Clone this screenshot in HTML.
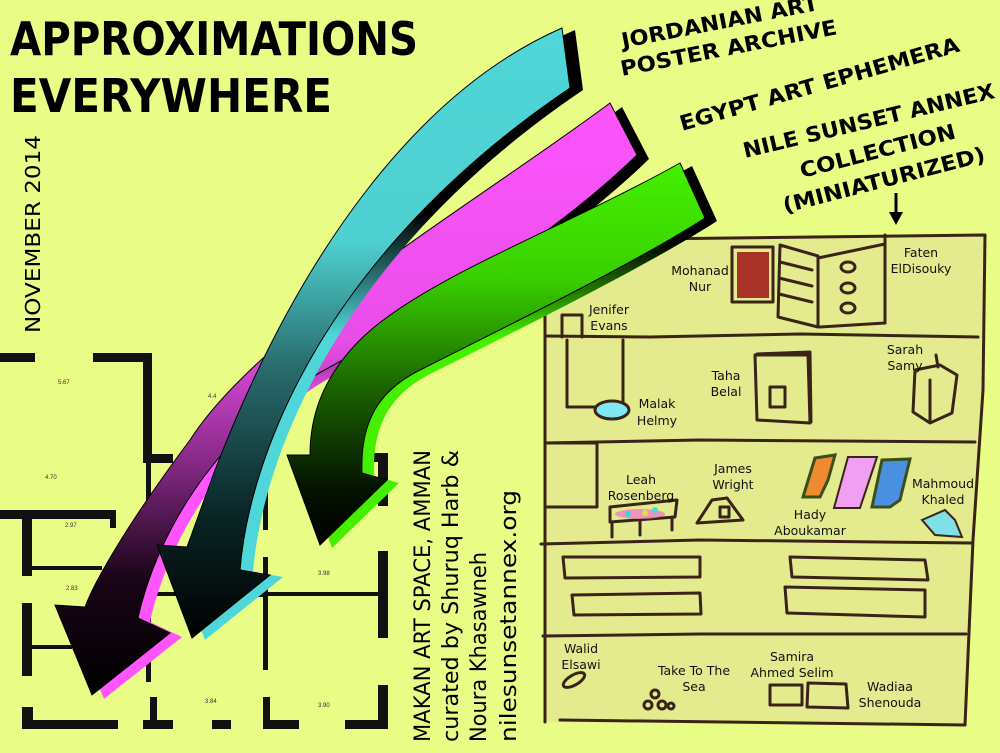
<!DOCTYPE html>
<html><head><meta charset="utf-8"><style>
html,body{margin:0;padding:0;background:#e8fc86;}
svg{display:block;}
</style></head><body>
<svg width="1000" height="753" viewBox="0 0 1000 753" xmlns="http://www.w3.org/2000/svg">
<defs>
<linearGradient id="gc" x1="0" y1="0" x2="0" y2="1" gradientUnits="objectBoundingBox">
<stop offset="0" stop-color="#4fd6d8"/><stop offset="0.35" stop-color="#4fd0d0"/><stop offset="0.55" stop-color="#2a6e70"/><stop offset="0.8" stop-color="#0a2526"/><stop offset="1" stop-color="#000"/></linearGradient>
<linearGradient id="gm" x1="0" y1="0" x2="0" y2="1">
<stop offset="0" stop-color="#ff55ff"/><stop offset="0.4" stop-color="#e84ee8"/><stop offset="0.6" stop-color="#8a2a8a"/><stop offset="0.8" stop-color="#1a0518"/><stop offset="1" stop-color="#000"/></linearGradient>
<linearGradient id="gg" x1="0" y1="0" x2="0" y2="1">
<stop offset="0" stop-color="#44f000"/><stop offset="0.3" stop-color="#3ad000"/><stop offset="0.6" stop-color="#1a6000"/><stop offset="0.85" stop-color="#041400"/><stop offset="1" stop-color="#000"/></linearGradient>
<linearGradient id="sc" x1="0" y1="0" x2="0" y2="1"><stop offset="0.3" stop-color="#000"/><stop offset="0.5" stop-color="#4fd6d8"/></linearGradient>
<linearGradient id="sm" x1="0" y1="0" x2="0" y2="1"><stop offset="0.3" stop-color="#000"/><stop offset="0.5" stop-color="#ff55ff"/></linearGradient>
<linearGradient id="sg" x1="0" y1="0" x2="0" y2="1"><stop offset="0.2" stop-color="#000"/><stop offset="0.45" stop-color="#44f000"/></linearGradient>
</defs>

<!-- floor plan -->
<g fill="#111">
<rect x="0" y="353" width="35" height="9"/>
<rect x="93" y="353" width="59" height="9"/>
<rect x="143" y="353" width="9" height="110"/>
<rect x="143" y="454" width="30" height="9"/>
<rect x="146" y="462" width="5" height="220"/>
<rect x="0" y="510" width="116" height="9"/>
<rect x="110" y="510" width="6" height="18"/>
<rect x="22" y="510" width="10" height="66"/>
<rect x="32" y="566" width="70" height="4"/>
<rect x="22" y="603" width="10" height="73"/>
<rect x="32" y="645" width="40" height="4"/>
<rect x="22" y="707" width="11" height="22"/>
<rect x="22" y="720" width="96" height="9"/>
<rect x="143" y="720" width="30" height="9"/>
<rect x="150" y="697" width="7" height="32"/>
<rect x="212" y="720" width="19" height="9"/>
<rect x="263" y="720" width="36" height="9"/>
<rect x="263" y="697" width="7" height="32"/>
<rect x="345" y="720" width="43" height="9"/>
<rect x="378" y="685" width="10" height="44"/>
<rect x="378" y="551" width="10" height="87"/>
<rect x="378" y="453" width="10" height="53"/>
<rect x="345" y="453" width="43" height="9"/>
<rect x="263" y="455" width="5" height="75"/>
<rect x="263" y="557" width="5" height="113"/>
<rect x="155" y="592" width="225" height="4"/>
<rect x="258" y="587" width="10" height="10"/>
</g>
<g font-family="Liberation Sans, sans-serif" font-size="6" fill="#333">
<text x="58" y="384">5.67</text><text x="208" y="398">4.4</text><text x="65" y="527">2.97</text>
<text x="66" y="590">2.83</text><text x="318" y="575">3.98</text><text x="205" y="703">3.84</text><text x="318" y="707">3.90</text>
<text x="45" y="479">4.70</text>
</g>

<!-- sketch paper -->
<polygon points="545,300 600,240 985,233 983,390 973,540 965,725 545,722" fill="#e3eb8e"/>
<g fill="none" stroke="#3a2418" stroke-width="3" stroke-linecap="round" stroke-linejoin="round">
<path d="M560,240 L985,235 L983,390 L973,540 L965,725 L560,720"/>
<path d="M545,300 L545,722"/>
<path d="M545,336 L650,337 L800,334 L978,337"/>
<path d="M545,443 L700,440 L975,442"/>
<path d="M541,544 L700,540 L971,543"/>
<path d="M543,636 L700,634 L966,634"/>
<rect x="732" y="247" width="41" height="55"/>
<path d="M780,245 L818,256 L818,327 L778,317 Z M780,262 L812,270 M779,278 L812,286 M779,294 L812,302"/>
<path d="M818,258 L885,244 L885,323 L820,327"/>
<ellipse cx="848" cy="267" rx="7" ry="5"/><ellipse cx="848" cy="288" rx="7" ry="5"/><ellipse cx="848" cy="308" rx="7" ry="5"/>
<path d="M885,235 L885,323"/>
<path d="M562,337 L562,315 L582,315 L582,337"/>
<path d="M567,340 L567,407 L598,407 M623,340 L623,405"/>
<path d="M755,355 L808,355 L810,423 L757,420 Z M757,354 L810,352 L811,422"/>
<rect x="770" y="387" width="15" height="20"/>
<path d="M915,370 L940,365 L957,375 L952,413 L930,423 L913,412 Z M930,380 L930,423 M936,355 L938,367"/>
<path d="M547,443 L597,443 L597,507 L547,507"/>
<path d="M610,507 L677,500 L675,517 L610,522 Z M612,522 L612,537 M640,520 L640,535 M672,517 L672,530"/>
<path d="M697,523 L712,500 L727,498 L743,520 Z"/>
<rect x="720" y="507" width="9" height="10"/>
<path d="M563,557 L700,557 L700,577 L565,578 Z"/>
<path d="M572,595 L700,593 L701,614 L574,615 Z"/>
<path d="M790,557 L925,560 L928,580 L792,577 Z"/>
<path d="M785,587 L925,590 L925,617 L787,613 Z"/>
<rect x="770" y="685" width="32" height="20"/>
<path d="M808,683 L846,684 L848,708 L807,707 Z"/>
<ellipse cx="574" cy="680" rx="12" ry="5" transform="rotate(-30 574 680)"/>
<circle cx="655" cy="694" r="4"/><circle cx="648" cy="705" r="4"/><circle cx="662" cy="705" r="4"/><circle cx="671" cy="706" r="3"/>
</g>
<ellipse cx="612" cy="410" rx="17" ry="9" fill="#80e8f2" stroke="#3a2418" stroke-width="3"/>
<path d="M803,497 L815,458 L835,455 L828,480 L820,497 Z" fill="#f08a30" stroke="#3a5018" stroke-width="3"/>
<path d="M834,508 L848,457 L877,457 L860,508 Z" fill="#f0a0f0" stroke="#3a2418" stroke-width="2"/>
<path d="M872,507 L882,460 L910,459 L900,500 L890,507 Z" fill="#4a90e0" stroke="#3a5018" stroke-width="3"/>
<path d="M922,520 L945,510 L955,520 L962,537 L935,535 Z" fill="#80e0e8" stroke="#3a2418" stroke-width="2"/>
<ellipse cx="640" cy="514" rx="25" ry="5" fill="#f080c0" opacity="0.8"/>
<circle cx="628" cy="514" r="3" fill="#40d0e0"/><circle cx="645" cy="513" r="3" fill="#e0e040"/><circle cx="655" cy="510" r="3" fill="#40e0e0"/>
<rect x="737" y="252" width="32" height="46" fill="#a83228"/>

<g font-family="DejaVu Sans, Liberation Sans, sans-serif" font-size="12.5" fill="#111" text-anchor="middle">
<text x="700" y="275">Mohanad</text><text x="700" y="291">Nur</text>
<text x="921" y="257">Faten</text><text x="921" y="273">ElDisouky</text>
<text x="609" y="314">Jenifer</text><text x="609" y="330">Evans</text>
<text x="726" y="380">Taha</text><text x="726" y="396">Belal</text>
<text x="905" y="354">Sarah</text><text x="905" y="370">Samy</text>
<text x="657" y="408">Malak</text><text x="657" y="425">Helmy</text>
<text x="641" y="484">Leah</text><text x="641" y="500">Rosenberg</text>
<text x="733" y="473">James</text><text x="733" y="489">Wright</text>
<text x="943" y="488">Mahmoud</text><text x="943" y="504">Khaled</text>
<text x="810" y="519">Hady</text><text x="810" y="535">Aboukamar</text>
<text x="581" y="653">Walid</text><text x="581" y="669">Elsawi</text>
<text x="694" y="675">Take To The</text><text x="694" y="691">Sea</text>
<text x="792" y="661">Samira</text><text x="792" y="677">Ahmed Selim</text>
<text x="890" y="691">Wadiaa</text><text x="890" y="707">Shenouda</text>
</g>

<!-- arrows: magenta -->
<path transform="translate(12,4)" d="M610,103 C480,200 260,330 190,440 C130,520 95,580 85,607 L55,605 L92,695 L170,633 L138,618 C160,520 230,420 330,367 C450,300 560,230 637,155 Z" fill="url(#sm)"/>
<path d="M610,103 C480,200 260,330 190,440 C130,520 95,580 85,607 L55,605 L92,695 L170,633 L138,618 C160,520 230,420 330,367 C450,300 560,230 637,155 Z" fill="url(#gm)" stroke="#000" stroke-width="1"/>
<!-- green -->
<path transform="translate(12,3)" d="M680,163 C560,230 420,280 360,340 C320,380 310,420 310,455 L287,455 L320,545 L387,480 L362,473 C360,420 380,390 420,370 C520,320 640,260 705,218 Z" fill="url(#sg)"/>
<path d="M680,163 C560,230 420,280 360,340 C320,380 310,420 310,455 L287,455 L320,545 L387,480 L362,473 C360,420 380,390 420,370 C520,320 640,260 705,218 Z" fill="url(#gg)" stroke="#000" stroke-width="1"/>
<!-- cyan -->
<path transform="translate(13,2)" d="M562,28 C420,90 300,250 215,470 L187,547 L157,545 L192,638 L270,575 L240,570 C250,450 330,250 570,88 Z" fill="url(#sc)"/>
<path d="M562,28 C420,90 300,250 215,470 L187,547 L157,545 L192,638 L270,575 L240,570 C250,450 330,250 570,88 Z" fill="url(#gc)" stroke="#000" stroke-width="1"/>

<!-- titles -->
<g font-family="DejaVu Sans, Liberation Sans, sans-serif" font-weight="bold" fill="#000">
<text x="10" y="55" font-size="46" textLength="408" lengthAdjust="spacingAndGlyphs">APPROXIMATIONS</text>
<text x="10" y="112" font-size="46" textLength="322" lengthAdjust="spacingAndGlyphs">EVERYWHERE</text>
<g font-size="21">
<text transform="translate(623,48) rotate(-11)" textLength="200" lengthAdjust="spacingAndGlyphs">JORDANIAN ART</text>
<text transform="translate(622,76) rotate(-11)" textLength="220" lengthAdjust="spacingAndGlyphs">POSTER ARCHIVE</text>
<text transform="translate(682,131) rotate(-16)" textLength="290" lengthAdjust="spacingAndGlyphs">EGYPT ART EPHEMERA</text>
<text transform="translate(745,158) rotate(-13.5)" textLength="258" lengthAdjust="spacingAndGlyphs">NILE SUNSET ANNEX</text>
<text transform="translate(802,178) rotate(-14.5)" textLength="160" lengthAdjust="spacingAndGlyphs">COLLECTION</text>
<text transform="translate(785,213) rotate(-14.5)" textLength="208" lengthAdjust="spacingAndGlyphs">(MINIATURIZED)</text>
</g>
</g>
<path d="M896,193 L896,218" stroke="#000" stroke-width="3"/>
<path d="M889,212 L896,225 L903,212 Z" fill="#000"/>

<g font-family="DejaVu Sans, Liberation Sans, sans-serif" font-size="20" fill="#000">
<text transform="translate(40,333) rotate(-90)" textLength="198" lengthAdjust="spacingAndGlyphs">NOVEMBER 2014</text>
</g>
<g font-family="DejaVu Sans, Liberation Sans, sans-serif" font-size="22" fill="#000">
<text transform="translate(430,742) rotate(-90)" textLength="292" lengthAdjust="spacingAndGlyphs">MAKAN ART SPACE, AMMAN</text>
<text transform="translate(458,742) rotate(-90)" textLength="292" lengthAdjust="spacingAndGlyphs">curated by Shuruq Harb &amp;</text>
<text transform="translate(486,742) rotate(-90)" textLength="190" lengthAdjust="spacingAndGlyphs">Noura Khasawneh</text>
<text transform="translate(516,742) rotate(-90)" textLength="252" lengthAdjust="spacingAndGlyphs">nilesunsetannex.org</text>
</g>
</svg>
</body></html>
